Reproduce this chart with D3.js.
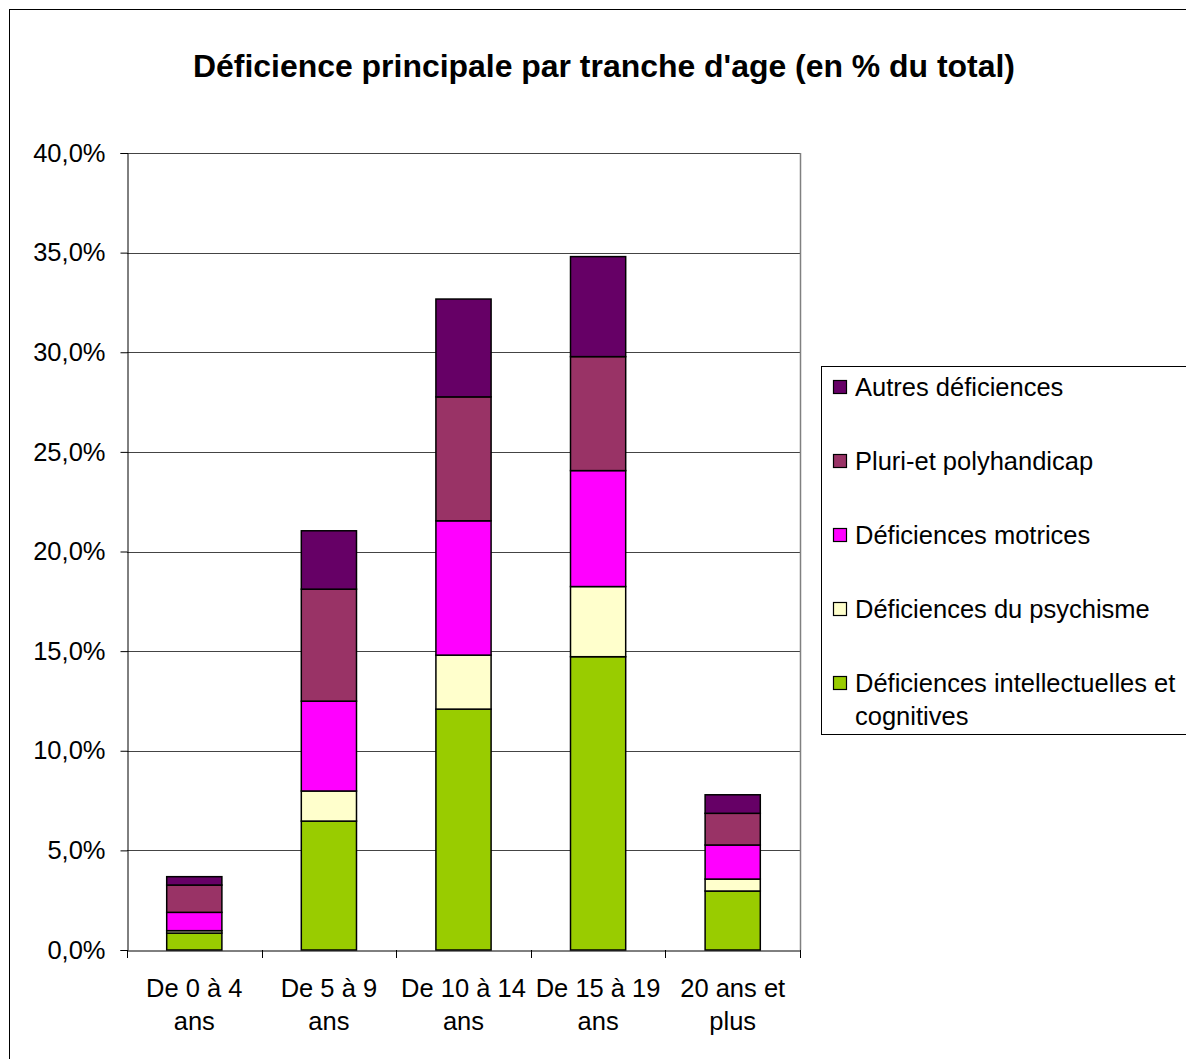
<!DOCTYPE html>
<html>
<head>
<meta charset="utf-8">
<script src="https://cdn.jsdelivr.net/npm/d3@7"></script>
<style>
  html, body { margin: 0; padding: 0; background: #fff; }
  svg { display: block; font-family: "Liberation Sans", Arial, sans-serif; }
</style>
</head>
<body>
<svg id="chart" width="1186" height="1059"></svg>
<script>
const titleText = "Déficience principale par tranche d'age (en % du total)";
const categories = [["De 0 à 4", "ans"], ["De 5 à 9", "ans"], ["De 10 à 14", "ans"], ["De 15 à 19", "ans"], ["20 ans et", "plus"]];
const seriesNames = ["Déficiences intellectuelles et cognitives", "Déficiences du psychisme", "Déficiences motrices", "Pluri-et polyhandicap", "Autres déficiences"];
const seriesColors = ["#99CC00", "#FFFFCC", "#FF00FF", "#993366", "#660066"];
const intellectuelles = [0.85, 6.47, 12.09, 14.72, 2.96];
const psychisme = [0.12, 1.51, 2.71, 3.52, 0.60];
const motrices = [0.92, 4.51, 6.74, 5.82, 1.71];
const pluri = [1.37, 5.62, 6.22, 5.72, 1.59];
const autres = [0.42, 2.93, 4.91, 5.02, 0.93];
const yTicks = [0, 5, 10, 15, 20, 25, 30, 35, 40];
const legendLabels = [["Autres déficiences"], ["Pluri-et polyhandicap"], ["Déficiences motrices"], ["Déficiences du psychisme"], ["Déficiences intellectuelles et", "cognitives"]];

(function () {
const seriesValues = [intellectuelles, psychisme, motrices, pluri, autres];
const keys = seriesNames;
const rows = categories.map((c, i) => {
  const r = { cat: c.join(" ") };
  keys.forEach((k, j) => r[k] = seriesValues[j][i]);
  return r;
});

const svg = d3.select("#chart");
const fs = 25.5;

// outer frame
svg.append("rect").attr("x", 9.5).attr("y", 9.5).attr("width", 1200).attr("height", 1100)
  .attr("fill", "#fff").attr("stroke", "#000").attr("stroke-width", 1);

// title
svg.append("text").attr("x", 604).attr("y", 77).attr("text-anchor", "middle")
  .attr("font-size", 31).attr("font-weight", "bold").attr("fill", "#000")
  .attr("textLength", 822).attr("lengthAdjust", "spacingAndGlyphs").text(titleText);

const pLeft = 127, pRight = 800, pTop = 153, pBottom = 950;
const x = d3.scaleBand().domain(rows.map(r => r.cat)).range([pLeft, pRight]).paddingInner(0.59).paddingOuter(0.295);
const xBand = d3.scaleBand().domain(rows.map(r => r.cat)).range([pLeft, pRight]).padding(0);
const y = d3.scaleLinear().domain([0, 40]).range([pBottom, pTop]);

// gridlines
svg.append("g").selectAll("line").data(yTicks.filter(t => t > 0)).join("line")
  .attr("x1", pLeft).attr("x2", pRight)
  .attr("y1", d => Math.round(y(d)) + 0.5).attr("y2", d => Math.round(y(d)) + 0.5)
  .attr("stroke", "#444").attr("stroke-width", 1);
// plot right border
svg.append("line").attr("x1", pRight + 0.5).attr("x2", pRight + 0.5).attr("y1", pTop).attr("y2", pBottom)
  .attr("stroke", "#808080").attr("stroke-width", 1.5);

// bars
const stacked = d3.stack().keys(keys)(rows);
svg.append("g").selectAll("g").data(stacked).join("g")
  .attr("fill", (d, i) => seriesColors[i])
  .selectAll("rect").data(d => d).join("rect")
  .attr("x", d => x(d.data.cat))
  .attr("width", x.bandwidth())
  .attr("y", d => y(d[1]))
  .attr("height", d => y(d[0]) - y(d[1]))
  .attr("stroke", "#000").attr("stroke-width", 1.5);

// y axis
const yAxis = d3.axisLeft(y).tickValues(yTicks).tickSize(7).tickPadding(15)
  .tickFormat(d => d3.format(".1f")(d).replace(".", ",") + "%");
const gy = svg.append("g").attr("transform", `translate(${pLeft + 0.5},0)`).call(yAxis);
gy.select(".domain").attr("stroke", "#000");
gy.selectAll(".tick line").attr("stroke", "#000");
gy.selectAll(".tick text").attr("font-size", fs).attr("fill", "#000")
  .attr("font-family", "'Liberation Sans', Arial, sans-serif");

// x axis
const xAxis = d3.axisBottom(xBand).tickSize(0).tickFormat("");
const gx = svg.append("g").attr("transform", `translate(0,${pBottom + 0.5})`).call(xAxis);
gx.select(".domain").attr("stroke", "#000");
const bounds = [pLeft, ...xBand.domain().map(d => xBand(d) + xBand.bandwidth())];
svg.append("g").selectAll("line").data(bounds).join("line")
  .attr("x1", d => Math.round(d) + 0.5).attr("x2", d => Math.round(d) + 0.5)
  .attr("y1", pBottom).attr("y2", pBottom + 8).attr("stroke", "#000");
const lab = svg.append("g").selectAll("text").data(rows).join("text")
  .attr("text-anchor", "middle").attr("font-size", fs).attr("fill", "#000")
  .attr("x", d => xBand(d.cat) + xBand.bandwidth() / 2)
  .attr("y", 997);
lab.each(function(d, i) {
  const t = d3.select(this);
  categories[i].forEach((line, k) => {
    t.append("tspan").attr("x", xBand(d.cat) + xBand.bandwidth() / 2).attr("dy", k === 0 ? 0 : 33).text(line);
  });
});

// legend
const lg = svg.append("g");
lg.append("rect").attr("x", 821.5).attr("y", 366.5).attr("width", 400).attr("height", 368)
  .attr("fill", "#fff").attr("stroke", "#000").attr("stroke-width", 1);
const legendColors = seriesColors.slice().reverse();
legendLabels.forEach((lines, i) => {
  const cy = 387 + i * 74;
  lg.append("rect").attr("x", 833.5).attr("y", cy - 6.5).attr("width", 13).attr("height", 13)
    .attr("fill", legendColors[i]).attr("stroke", "#000").attr("stroke-width", 1.2);
  const t = lg.append("text").attr("x", 855).attr("y", cy + 9).attr("font-size", fs).attr("fill", "#000");
  lines.forEach((ln, k) => t.append("tspan").attr("x", 855).attr("dy", k === 0 ? 0 : 33).text(ln));
});
})();
</script>
</body>
</html>
